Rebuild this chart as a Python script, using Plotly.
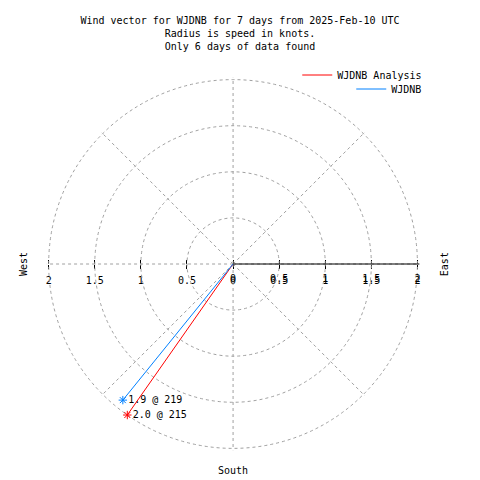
import plotly.graph_objects as go

series_names = ["WJDNB Analysis", "WJDNB"]
speeds_kt = [2.0, 1.9]
directions_deg = [215, 219]
point_labels = ["2.0 @ 215", "1.9 @ 219"]
series_colors = ["#ff0000", "#0080ff"]
radial_tickvals = [0, 0.5, 1, 1.5, 2]
radial_ticktext = ["0", "0.5", "1", "1.5", "2"]
title_lines = ["Wind vector for WJDNB for 7 days from 2025-Feb-10 UTC",
               "Radius is speed in knots.",
               "Only 6 days of data found"]

FONT = "DejaVu Sans Mono"
GRID = "#a0a0a0"
RMAX = 2.02
OFF = 8  # page body margin


def px(x):
    return (x - OFF) / 480


def py(y):
    return 1 - (y - OFF) / 480


# west-east scale (west half mirrored)
we_tickvals = [-v for v in reversed(radial_tickvals[1:])] + radial_tickvals
we_ticktext = list(reversed(radial_ticktext[1:])) + radial_ticktext

fig = go.Figure()
legends = ["legend", "legend2"]
for name, s, d, c, lg in zip(series_names, speeds_kt, directions_deg, series_colors, legends):
    fig.add_trace(go.Scatterpolar(r=[0, s], theta=[d, d], mode="lines",
                                  line=dict(color=c, width=1), name=name,
                                  legend=lg, subplot="polar"))
for s, d, lab, c in zip(speeds_kt, directions_deg, point_labels, series_colors):
    fig.add_trace(go.Scatterpolar(r=[s], theta=[d], mode="markers+text",
                                  text=[lab], textposition="middle right",
                                  textfont=dict(family=FONT, size=10, color="black"),
                                  marker=dict(symbol="asterisk-open", size=7, color=c,
                                              line=dict(color=c, width=1)),
                                  showlegend=False, subplot="polar"))
fig.add_trace(go.Scatter(x=[], y=[], xaxis="x", yaxis="y", showlegend=False))
fig.add_trace(go.Scatter(x=[], y=[], xaxis="x2", yaxis="y", showlegend=False))

dom = dict(x=[px(46), px(420)], y=[py(451), py(77)])
axis_y = py(264)
leg_common = dict(xanchor="right", yanchor="middle", bgcolor="rgba(0,0,0,0)",
                  font=dict(family=FONT, size=10), borderwidth=0)
fig.update_layout(
    width=480, height=480,
    margin=dict(l=0, r=0, t=0, b=0),
    paper_bgcolor="white", plot_bgcolor="rgba(0,0,0,0)",
    font=dict(family=FONT, size=10, color="black"),
    title=dict(text="<br>".join(title_lines), x=px(240), xanchor="center",
               y=1 - 16 / 480, yanchor="top", font=dict(family=FONT, size=10)),
    polar=dict(
        domain=dom, bgcolor="rgba(0,0,0,0)",
        radialaxis=dict(range=[0, RMAX], tickvals=radial_tickvals,
                        ticktext=radial_ticktext, showline=True, linecolor="black",
                        linewidth=1, ticks="outside", ticklen=5,
                        tickcolor="rgba(0,0,0,0)",
                        gridcolor=GRID, griddash="3px,3px", gridwidth=1,
                        tickfont=dict(family=FONT, size=10)),
        angularaxis=dict(dtick=45, gridcolor=GRID, griddash="3px,3px",
                         gridwidth=1, rotation=90, direction="clockwise",
                         showticklabels=False, ticks="", showline=False),
    ),
    xaxis=dict(domain=dom["x"], range=[-RMAX, RMAX], anchor="free", position=axis_y,
               tickvals=we_tickvals, ticktext=we_ticktext, ticks="outside",
               ticklen=4, tickcolor="black", showgrid=False, zeroline=False,
               showline=False, ticklabelstandoff=3,
               tickfont=dict(family=FONT, size=10)),
    xaxis2=dict(domain=dom["x"], range=[-RMAX, RMAX], anchor="free", position=axis_y,
                overlaying="x", tickvals=we_tickvals, ticks="inside", ticklen=4,
                tickcolor="black", showticklabels=False, showgrid=False,
                zeroline=False, showline=False),
    yaxis=dict(domain=[0, 1], range=[0, 1], visible=False, fixedrange=True),
    legend=dict(x=px(428), y=py(75), **leg_common),
    legend2=dict(x=px(428), y=py(89), **leg_common),
    annotations=[
        dict(text="West", x=px(22), y=py(264), xref="paper", yref="paper",
             xanchor="center", yanchor="middle", showarrow=False, textangle=-90),
        dict(text="East", x=px(445), y=py(264), xref="paper", yref="paper",
             xanchor="center", yanchor="middle", showarrow=False, textangle=-90),
        dict(text="South", x=px(233), y=py(470), xref="paper", yref="paper",
             xanchor="center", yanchor="middle", showarrow=False),
    ],
)
fig.write_html("out.html")
